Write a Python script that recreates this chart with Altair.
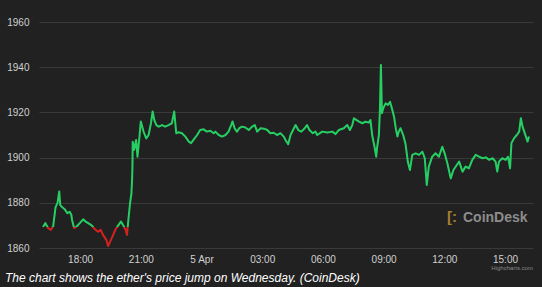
import altair as alt
import pandas as pd

# ---- data ----
times = [
    "16:10", "16:17", "16:25", "16:33", "16:40", "16:47", "16:53", "16:58", "17:01", "17:07",
    "17:15", "17:22", "17:29", "17:34", "17:36", "17:42", "17:49", "17:59", "18:09", "18:16",
    "18:24", "18:34", "18:44", "18:53", "19:01", "19:08", "19:18", "19:23", "19:31", "19:38",
    "19:45", "19:53", "20:01", "20:08", "20:15", "20:19", "20:23", "20:28", "20:32", "20:34",
    "20:35", "20:36", "20:40", "20:46", "20:50", "20:56", "21:00", "21:08", "21:16", "21:23",
    "21:30", "21:35", "21:40", "21:46", "21:53", "22:03", "22:12", "22:22", "22:32", "22:39",
    "22:45", "22:52", "23:02", "23:12", "23:22", "23:29", "23:36", "23:47", "23:56", "00:06",
    "00:16", "00:26", "00:36", "00:41", "00:51", "01:01", "01:11", "01:20", "01:28", "01:32",
    "01:38", "01:45", "01:52", "02:00", "02:10", "02:20", "02:30", "02:38", "02:45", "02:55",
    "03:05", "03:15", "03:24", "03:34", "03:44", "03:54", "04:04", "04:09", "04:17", "04:24",
    "04:34", "04:39", "04:47", "04:56", "05:06", "05:13", "05:20", "05:30", "05:38", "05:43",
    "05:58", "06:13", "06:28", "06:37", "06:47", "07:02", "07:12", "07:20", "07:27", "07:32",
    "07:40", "07:47", "07:57", "08:06", "08:16", "08:21", "08:26", "08:33", "08:38", "08:41",
    "08:46", "08:49", "08:52", "08:55", "08:59", "09:06", "09:13", "09:19", "09:26", "09:31",
    "09:36", "09:41", "09:45", "09:50", "09:58", "10:05", "10:12", "10:18", "10:25", "10:35",
    "10:45", "10:55", "11:02", "11:08", "11:14", "11:24", "11:34", "11:44", "11:54", "12:01",
    "12:09", "12:19", "12:27", "12:37", "12:44", "12:54", "13:03", "13:13", "13:23", "13:33",
    "13:43", "13:53", "14:03", "14:13", "14:23", "14:32", "14:37", "14:42", "14:52", "15:02",
    "15:09", "15:15", "15:19", "15:27", "15:35", "15:42", "15:47", "15:52", "15:57", "16:07",
    "16:11",
]
prices = [
    1869.3, 1871.0, 1868.8, 1868.0, 1869.6, 1878.0, 1880.0, 1885.0, 1879.0, 1878.0,
    1877.0, 1875.4, 1876.0, 1874.6, 1872.4, 1868.8, 1869.4, 1871.0, 1872.7, 1871.7,
    1871.0, 1870.0, 1868.3, 1867.2, 1868.0, 1865.8, 1863.5, 1860.9, 1863.5, 1865.8,
    1868.3, 1870.0, 1871.7, 1870.0, 1868.0, 1865.8, 1872.4, 1879.8, 1884.0, 1890.0,
    1895.3, 1907.0, 1903.4, 1907.8, 1900.4, 1909.3, 1916.0, 1911.5, 1908.5, 1910.0,
    1915.2, 1920.4, 1916.6, 1914.4, 1913.7, 1914.4, 1913.7, 1914.4, 1915.2, 1920.4,
    1910.8, 1911.2, 1910.8, 1909.3, 1907.1, 1906.4, 1907.8, 1910.0, 1912.2, 1912.5,
    1911.5, 1911.9, 1910.8, 1911.5, 1910.0, 1909.3, 1910.0, 1911.5, 1914.4, 1916.0,
    1913.0, 1911.5, 1913.0, 1913.7, 1913.3, 1912.2, 1913.7, 1914.4, 1911.5, 1913.0,
    1912.8, 1912.2, 1910.8, 1911.0, 1910.0, 1910.8, 1909.3, 1907.8, 1905.9, 1910.0,
    1913.0, 1914.4, 1912.2, 1911.5, 1913.0, 1914.4, 1912.2, 1910.8, 1911.5, 1910.0,
    1911.5, 1911.1, 1911.5, 1910.4, 1912.2, 1913.0, 1914.4, 1912.2, 1914.4, 1917.4,
    1916.6, 1915.9, 1915.2, 1915.9, 1915.5, 1916.6, 1910.0, 1904.8, 1900.4, 1904.8,
    1910.0, 1921.0, 1941.0, 1919.6, 1921.9, 1924.0, 1923.3, 1924.7, 1921.0, 1918.0,
    1913.0, 1909.3, 1911.5, 1913.0, 1910.0, 1906.0, 1898.0, 1894.5, 1901.2, 1901.9,
    1901.2, 1902.6, 1899.7, 1887.9, 1896.0, 1900.4, 1901.9, 1900.4, 1904.8, 1901.9,
    1897.5, 1890.8, 1894.5, 1896.7, 1898.2, 1893.8, 1896.0, 1895.3, 1899.0, 1901.2,
    1900.4, 1899.7, 1900.1, 1899.0, 1899.7, 1898.2, 1893.8, 1898.2, 1899.7, 1899.0,
    1900.4, 1895.3, 1906.4, 1908.6, 1910.0, 1911.5, 1917.4, 1913.7, 1911.5, 1907.1,
    1909.3,
]
y_ticks = [1860, 1880, 1900, 1920, 1940, 1960]
caption = "The chart shows the ether's price jump on Wednesday. (CoinDesk)"
brand = "CoinDesk"
credit = "Highcharts.com"

# ---- build table (day rolls over at midnight) ----
stamps = []
day = 4
prev_h = None
for s in times:
    h = int(s[:2])
    if prev_h is not None and h < prev_h:
        day = 5
    prev_h = h
    stamps.append(f"2023-04-{day:02d}T{s}:00")
df = pd.DataFrame({"t": stamps, "price": prices})

# colour zones: red below the opening price (gradient in bbox units)
threshold = prices[0]
pmax, pmin = max(prices), min(prices)
off = (pmax - threshold) / (pmax - pmin)
GREEN = "#26cf63"
RED = "#d42020"
grad = alt.LinearGradient(
    gradient="linear", x1=0, x2=0, y1=0, y2=1,
    stops=[
        alt.GradientStop(color=GREEN, offset=0),
        alt.GradientStop(color=GREEN, offset=off),
        alt.GradientStop(color=RED, offset=off),
        alt.GradientStop(color=RED, offset=1),
    ],
)

W, H = 494, 226
FONT = "Liberation Sans"

tick_vals = [alt.DateTime(year=2023, month=4, date=4, hours=h) for h in (18, 21)] + \
            [alt.DateTime(year=2023, month=4, date=5, hours=h) for h in (0, 3, 6, 9, 12, 15)]

x = alt.X(
    "t:T",
    scale=alt.Scale(domain=[alt.DateTime(year=2023, month=4, date=4, hours=15, minutes=58),
                            alt.DateTime(year=2023, month=4, date=5, hours=16, minutes=23)]),
    axis=alt.Axis(
        values=tick_vals,
        labelExpr="hours(datum.value) == 0 ? timeFormat(datum.value, '%-d %b') : timeFormat(datum.value, '%H:%M')",
        title=None, grid=False, ticks=False, domain=False,
        labelColor="#d0d0d0", labelFontSize=10, labelFont=FONT, labelPadding=6,
        labelFlush=False,
    ),
)
y = alt.Y(
    "price:Q",
    scale=alt.Scale(domain=[1860, 1960], nice=False, zero=False),
    axis=alt.Axis(
        values=y_ticks, format="d", title=None, grid=True, gridColor="#3a3a3a", gridWidth=1,
        ticks=False, domain=False, labelColor="#d0d0d0", labelFontSize=10,
        labelFont=FONT, labelPadding=10,
    ),
)

line = alt.Chart(df).mark_line(stroke=grad, strokeWidth=2, interpolate="linear",
                               strokeJoin="round").encode(x=x, y=y)

cap = alt.Chart(pd.DataFrame({"s": [caption]})).mark_text(
    align="left", baseline="alphabetic", font=FONT, fontStyle="italic", fontSize=12, color="#ffffff"
).encode(x=alt.value(-34), y=alt.value(260), text="s:N")

logo_txt = alt.Chart(pd.DataFrame({"s": [brand]})).mark_text(
    align="left", baseline="middle", font=FONT, fontWeight="bold", fontSize=14, color="#8c8c8c"
).encode(x=alt.value(424), y=alt.value(196), text="s:N")

logo_icon = alt.Chart(pd.DataFrame({"s": ["[:"]})).mark_text(
    align="left", baseline="middle", font=FONT, fontWeight="bold", fontSize=15, color="#a6802c"
).encode(x=alt.value(408), y=alt.value(195), text="s:N")

hc = alt.Chart(pd.DataFrame({"s": [credit]})).mark_text(
    align="right", baseline="middle", font=FONT, fontSize=6, color="#8a8a8a"
).encode(x=alt.value(494), y=alt.value(246), text="s:N")

chart = alt.layer(line, cap, logo_icon, logo_txt, hc).properties(
    width=W, height=H,
    autosize=alt.AutoSizeParams(type="none"),
    padding={"left": 39, "top": 22, "right": 9, "bottom": 39},
    background="#212121",
).configure_view(stroke=None)

chart.save("out.html", embed_options={"renderer": "svg", "actions": False})
